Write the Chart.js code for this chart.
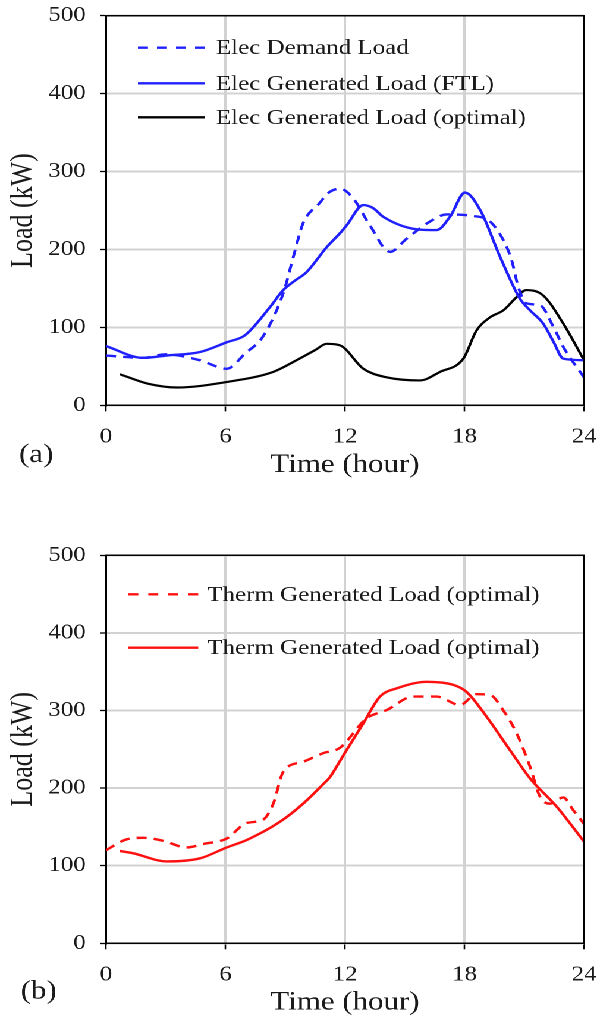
<!DOCTYPE html>
<html>
<head>
<meta charset="utf-8">
<script src="https://cdn.jsdelivr.net/npm/chart.js@4.4.1/dist/chart.umd.min.js"></script>
<style>
html, body { margin: 0; padding: 0; background: #fff; overflow: hidden; width: 597px; height: 1021px; }
#wrap { position: absolute; left: 0; top: 0; width: 502px; height: 1021px; transform: scaleX(1.189243); transform-origin: 0 0; }
canvas { position: absolute; left: 0; }
</style>
</head>
<body>
<div id="wrap">
  <canvas id="chartA" width="502" height="510" style="top:0px;width:502px;height:510px"></canvas>
  <canvas id="chartB" width="502" height="511" style="top:510px;width:502px;height:511px"></canvas>
</div>
<script>
// ---------- data ----------
const xTickValues = [0, 6, 12, 18, 24];
const yTickValues = [0, 100, 200, 300, 400, 500];
const xAxisTitle = 'Time (hour)';
const yAxisTitle = 'Load (kW)';

// (a) electricity
const elecDemandHours = [0, 1.9, 3, 4.7, 6.06, 7, 7.87, 8.9, 9.4, 9.9, 10.7, 11.24, 11.75, 12.4, 13.25, 14.26, 15.1, 16.27, 17.1, 18.44, 19.28, 19.95, 20.37, 20.7, 21.1, 21.79, 22.46, 22.96, 24];
const elecDemandLoad  = [64, 61, 65.5, 58, 47, 67, 88, 144, 190, 234, 259, 274, 278, 266, 231, 197, 214, 236, 245, 243, 236, 212, 186, 152, 131, 128.5, 101, 75, 36];

const elecFtlHours = [0, 1.87, 3.05, 4.72, 6.06, 6.98, 8.23, 8.9, 9.4, 10.07, 11.08, 11.75, 12.08, 12.92, 13.42, 13.92, 15.6, 16.6, 17.27, 18.02, 18.78, 19.78, 20.78, 21.29, 21.95, 22.46, 22.96, 24];
const elecFtlLoad  = [76, 61, 64, 68.5, 81, 90, 126, 148, 158.5, 171, 203, 221, 231, 257, 253, 242, 226, 225, 242, 273, 251, 191, 137, 122, 105, 82, 60, 58];

const elecOptHours = [0.7, 2.08, 3.55, 6.06, 8.4, 9.57, 10.5, 11.08, 11.75, 12.92, 14.09, 15.76, 16.77, 17.94, 18.6, 19.28, 19.95, 20.62, 21.1, 21.95, 22.96, 24];
const elecOptLoad  = [40, 28, 23, 30, 43, 58, 71, 79, 77, 47, 36, 32, 43, 60, 96, 113, 122, 139, 148, 141, 105, 58];

// (b) thermal
const thermDashHours = [0, 1.04, 1.87, 2.88, 4.05, 4.89, 6.06, 7.06, 7.87, 8.4, 8.9, 9.9, 10.9, 11.75, 13.09, 14.09, 15.43, 16.6, 17.77, 18.6, 19.28, 19.95, 20.62, 21.29, 21.79, 22.29, 22.96, 23.46, 24];
const thermDashLoad  = [120, 134, 136, 132, 123.5, 128, 135, 155, 159, 180, 221, 234, 245, 252, 290, 300.5, 318, 318, 307, 321, 320, 300, 270.5, 227.5, 189, 180, 188, 171.5, 154];

const thermSolidHours = [0.7, 1.37, 3.05, 4.72, 6.06, 7.06, 8.73, 9.9, 10.9, 11.24, 11.75, 12.08, 12.92, 13.76, 14.59, 16.1, 17.44, 18.1, 19.11, 20.28, 21.29, 22.63, 24];
const thermSolidLoad  = [119, 116, 105.5, 109.5, 123.5, 133, 156.5, 180, 205, 214, 235, 249, 283.5, 318, 328.5, 337, 333, 324, 292, 249, 212.5, 176, 131];

const labelsA = ['Elec Demand Load', 'Elec Generated Load (FTL)', 'Elec Generated Load (optimal)'];
const labelsB = ['Therm Generated Load (optimal)', 'Therm Generated Load (optimal)'];

// ---------- drawing ----------
const FAMILY = '"Liberation Serif", "Times New Roman", Times, serif';
Chart.defaults.font.family = FAMILY;
Chart.defaults.color = '#000';

function pts(xs, ys) { return xs.map((x, i) => ({ x: x, y: ys[i] })); }

const decorPlugin = {
  id: 'decor',
  afterDraw(chart, args, o) {
    const ctx = chart.ctx, a = chart.chartArea;
    ctx.save();
    ctx.strokeStyle = '#000';
    ctx.lineWidth = 1.5;
    ctx.beginPath();
    ctx.moveTo(a.left, a.top);
    ctx.lineTo(a.right, a.top);
    ctx.lineTo(a.right, a.bottom);
    ctx.stroke();

    ctx.font = '21px ' + FAMILY;
    ctx.textAlign = 'left';
    ctx.textBaseline = 'middle';
    chart.data.datasets.forEach((ds, i) => {
      const y = o.rows[i];
      ctx.strokeStyle = ds.borderColor;
      ctx.lineWidth = 2.4;
      ctx.setLineDash(ds.borderDash ? o.legendDash : []);
      ctx.beginPath();
      ctx.moveTo(o.lineX0, y);
      ctx.lineTo(o.lineX1, y);
      ctx.stroke();
      ctx.setLineDash([]);
      ctx.fillStyle = '#1a1a1a';
      ctx.fillText(ds.label, o.textX, y + 1);
    });

    ctx.font = '26px ' + FAMILY;
    ctx.fillStyle = '#1a1a1a';
    ctx.fillText(o.panel, o.panelX, o.panelY);
    ctx.restore();
  }
};

function makeChart(id, datasets, L) {
  const tickFont = { family: FAMILY, size: 21 };
  const titleFont = { family: FAMILY, size: 26 };
  const grid = { color: '#d2d2d2', lineWidth: 2, tickColor: '#000', tickWidth: 1.3 };
  return new Chart(document.getElementById(id), {
    type: 'line',
    data: { datasets: datasets },
    options: {
      responsive: false,
      animation: false,
      devicePixelRatio: 2,
      layout: { autoPadding: false, padding: { left: 0, right: 10.93, top: L.top, bottom: 0 } },
      elements: { point: { radius: 0, hoverRadius: 0 }, line: { cubicInterpolationMode: 'monotone', borderCapStyle: 'butt' } },
      plugins: {
        legend: { display: false },
        tooltip: { enabled: false },
        decor: L.decor
      },
      scales: {
        x: {
          type: 'linear', min: 0, max: 24,
          afterBuildTicks: s => { s.ticks = xTickValues.map(v => ({ value: v })); },
          afterFit: s => { s.height = L.xHeight; s.paddingLeft = 0; s.paddingRight = 0; },
          ticks: { font: tickFont, color: '#1a1a1a', padding: 13, maxRotation: 0, autoSkip: false },
          grid: Object.assign({ tickLength: 6 }, grid),
          border: { color: '#000', width: 1.5 },
          title: { display: true, text: xAxisTitle, font: titleFont, color: '#1a1a1a', padding: { top: 0, bottom: L.xTitlePad } }
        },
        y: {
          type: 'linear', min: 0, max: 500,
          afterBuildTicks: s => { s.ticks = yTickValues.map(v => ({ value: v })); },
          afterFit: s => { s.width = 89.13; s.paddingTop = 0; s.paddingBottom = 0; },
          ticks: { font: tickFont, color: '#1a1a1a', padding: 12 },
          grid: Object.assign({ tickLength: 5 }, grid),
          border: { color: '#000', width: 1.5 },
          title: { display: true, text: yAxisTitle, font: titleFont, color: '#1a1a1a', padding: { top: 4, bottom: 0 } }
        }
      }
    },
    plugins: [decorPlugin]
  });
}

const BLUE = '#2020ff';
const RED = '#ff1010';

makeChart('chartA', [
  { label: labelsA[0], data: pts(elecDemandHours, elecDemandLoad), borderColor: BLUE, borderWidth: 2.4, borderDash: [8.5, 6], fill: false },
  { label: labelsA[1], data: pts(elecFtlHours, elecFtlLoad), borderColor: BLUE, borderWidth: 2.4, fill: false },
  { label: labelsA[2], data: pts(elecOptHours, elecOptLoad), borderColor: '#000', borderWidth: 2.2, fill: false }
], {
  top: 15.7, xHeight: 104.6, xTitlePad: 29.4,
  decor: { rows: [47.7, 83.3, 117.3], lineX0: 116, lineX1: 172.4, textX: 181.6, legendDash: [8.4, 7.6], panel: '(a)', panelX: 16, panelY: 455 }
});

makeChart('chartB', [
  { label: labelsB[0], data: pts(thermDashHours, thermDashLoad), borderColor: RED, borderWidth: 2.4, borderDash: [8.5, 6], fill: false },
  { label: labelsB[1], data: pts(thermSolidHours, thermSolidLoad), borderColor: RED, borderWidth: 2.4, fill: false }
], {
  top: 45.3, xHeight: 77.7, xTitlePad: 2.5,
  decor: { rows: [84.3, 137.7], lineX0: 107.9, lineX1: 166.7, textX: 174.3, legendDash: [8.4, 8.4], panel: '(b)', panelX: 17.4, panelY: 481.5 }
});
</script>
</body>
</html>
